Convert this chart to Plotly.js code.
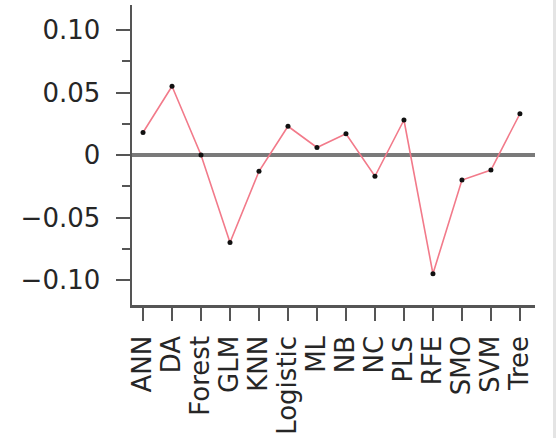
<!DOCTYPE html>
<html>
<head>
<meta charset="utf-8">
<script src="https://cdn.plot.ly/plotly-3.0.1.min.js"></script>
<style>
  html, body { margin: 0; padding: 0; background: #fff; }
  #wrap { position: relative; width: 556px; height: 438px; }
  #chart { width: 556px; height: 438px; }
  /* thin grey edge on the right side of the figure */
  #edge { position: absolute; top: 0; right: 0; width: 3px; height: 438px; background: #e4e4e4; }
</style>
</head>
<body>
<div id="wrap">
  <div id="chart"></div>
  <div id="edge"></div>
</div>
<script>
// Classifier methods along the x axis
const methods = ["ANN", "DA", "Forest", "GLM", "KNN", "Logistic", "ML", "NB",
                 "NC", "PLS", "RFE", "SMO", "SVM", "Tree"];

// Difference score for each method
const scores = [0.018, 0.055, 0.000, -0.070, -0.013, 0.023, 0.006, 0.017,
                -0.017, 0.028, -0.095, -0.020, -0.012, 0.033];

// Y axis tick positions and their labels
const yTickVals = [-0.10, -0.05, 0, 0.05, 0.10];
const yTickText = ["\u22120.10", "\u22120.05", "0", "0.05", "0.10"];

const font = { family: "DejaVu Sans, Liberation Sans, Arial, sans-serif", size: 26, color: "#262626" };

const trace = {
  type: "scatter",
  mode: "lines+markers",
  x: methods,
  y: scores,
  line: { color: "#f27a8a", width: 1.6 },
  marker: { color: "#111", size: 5 },
  hoverinfo: "x+y"
};

const layout = {
  width: 556,
  height: 438,
  margin: { l: 132, r: 21, t: 5, b: 133 },
  paper_bgcolor: "#fff",
  plot_bgcolor: "#fff",
  showlegend: false,
  font: font,
  xaxis: {
    type: "category",
    range: [-0.38, 13.52],
    tickmode: "array",
    tickvals: methods,
    ticktext: methods,
    showgrid: false,
    zeroline: false,
    showline: true,
    linecolor: "#555",
    linewidth: 2.5,
    ticks: "outside",
    ticklen: 13,
    tickwidth: 2,
    tickcolor: "#555",
    tickangle: -90,
    ticklabelstandoff: 5,
    tickfont: font
  },
  yaxis: {
    range: [-0.12, 0.12],
    showgrid: false,
    zeroline: true,
    zerolinecolor: "#7a7a7a",
    zerolinewidth: 4,
    showline: true,
    linecolor: "#555",
    linewidth: 2.5,
    ticks: "outside",
    ticklen: 14,
    tickwidth: 2,
    tickcolor: "#555",
    tickmode: "array",
    tickvals: yTickVals,
    ticktext: yTickText,
    ticklabelstandoff: 10,
    tickfont: font,
    minor: { dtick: 0.025, ticks: "outside", ticklen: 8, tickwidth: 2, tickcolor: "#555", showgrid: false }
  }
};

Plotly.newPlot("chart", [trace], layout, { displayModeBar: false, staticPlot: true });
</script>
</body>
</html>
